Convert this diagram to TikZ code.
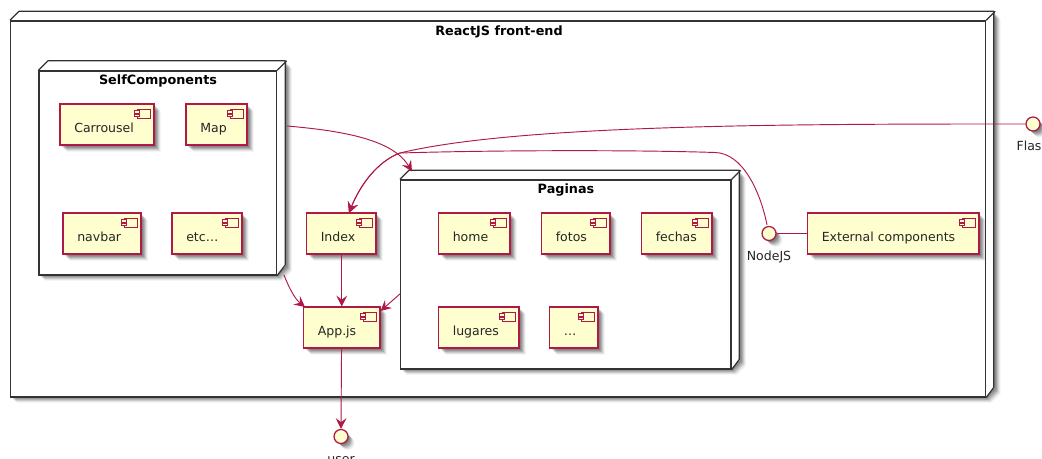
\documentclass[tikz,border=0pt]{standalone}
\usepackage{fontspec}
\setmainfont{DejaVu Sans}
\usetikzlibrary{arrows.meta,fit,calc}
\definecolor{umlred}{HTML}{B01845}
\definecolor{umlfill}{HTML}{FEFECE}
\tikzset{
  px/.style={x=.75pt,y=-.75pt},
  edge/.style={draw=umlred,line width=.7pt,-{Stealth[length=8pt,width=8pt,inset=3pt]}},
  plainedge/.style={draw=umlred,line width=.7pt},
  compbox/.style={draw=umlred,fill=umlfill,line width=.95pt,inner sep=0pt},
  compicon/.style={draw=umlred,fill=umlfill,line width=.7pt},
  comptext/.style={anchor=base west,inner sep=0pt,font=\fontsize{9.4pt}{11pt}\selectfont,text=black!85},
  iface/.style={circle,draw=umlred,fill=umlfill,line width=.95pt,minimum size=10.5pt,inner sep=0pt},
  ifacetext/.style={anchor=base,inner sep=0pt,font=\fontsize{9.4pt}{11pt}\selectfont,text=black!85},
  nodeface/.style={draw=black!80,fill=white,line width=.95pt,inner sep=0pt},
  nodeline/.style={draw=black!80,line width=.95pt,line join=round},
  nodetitle/.style={anchor=base,inner sep=0pt,font=\bfseries\fontsize{9.6pt}{11pt}\selectfont},
}
% soft shadow of a closed outline, drawn in picture units
\newcommand{\softshadow}[1]{%
  \fill[black,opacity=.10] #1;
  \begin{scope}[shift={(1,1)}]\fill[black,opacity=.13] #1;\end{scope}
  \begin{scope}[shift={(2,2)}]\fill[black,opacity=.13] #1;\end{scope}
  \begin{scope}[shift={(3,3)}]\fill[black,opacity=.13] #1;\end{scope}
  \begin{scope}[shift={(4,4)}]\fill[black,opacity=.10] #1;\end{scope}
  \begin{scope}[shift={(5,5)}]\fill[black,opacity=.07] #1;\end{scope}
  \begin{scope}[shift={(6,6)}]\fill[black,opacity=.04] #1;\end{scope}
}
% #1 name, #2..#5 x1 y1 x2 y2, #6 depth, #7 title x, #8 title baseline, #9 title
\newcommand{\threed}[9]{%
  \softshadow{(#2+#6,#3-#6+1) -- (#4+#6,#3-#6+1) -- (#4+#6,#5-#6) -- (#4,#5) -- (#2,#5) -- (#2,#3) -- cycle}
  \fill[white] (#2,#3) -- (#2+#6,#3-#6) -- (#4+#6,#3-#6) -- (#4+#6,#5-#6) -- (#4,#5) -- (#2,#5) -- cycle;
  \node[nodeface,fit={(#2,#3)(#4,#5)}] (#1) {};
  \draw[nodeline] (#1.north west) -- ++(#6,-#6) -- ++(#4-#2,0) -- ++(0,#5-#3) -- (#1.south east);
  \draw[nodeline] (#1.north east) -- ++(#6,-#6);
  \node[nodetitle] (#1-title) at (#7,#8) {#9};
}
% #1 name, #2..#5 x1 y1 x2 y2, #6 label
\newcommand{\comp}[6]{%
  \softshadow{(#2+1,#3+1) rectangle (#4+1,#5+1)}
  \node[compbox,fit={(#2,#3)(#4,#5)}] (#1) {};
  \node[comptext] (#1-text) at (#2+14,#3+29) {#6};
  \draw[compicon] (#4-17,#3+5) rectangle (#4-4,#3+14);
  \draw[compicon,fill=umlfill] (#4-19.5,#3+6.6) rectangle (#4-15,#3+9);
  \draw[compicon,fill=umlfill] (#4-19.5,#3+10) rectangle (#4-15,#3+12.4);
}
% #1 name, #2 x, #3 y, #4 label
\newcommand{\ifacenode}[4]{%
  \softshadow{(#2+1,#3+1) circle[radius=6.6]}
  \node[iface] (#1) at (#2,#3) {};
  \node[ifacetext] (#1-text) at (#2,#3+27) {#4};
}
\begin{document}
\begin{tikzpicture}[px]
\useasboundingbox (0,0) rectangle (1042,459);
\clip (0,0) rectangle (1042,459);
\fill[white] (0,0) rectangle (1042,459);

\threed{react}{10.5}{21}{985.5}{397}{9}{499}{35.5}{ReactJS front-end}
\threed{selfc}{39}{71}{276.5}{275}{9.5}{158}{85}{SelfComponents}
\threed{pag}{400.5}{180}{731}{369}{9}{566}{194}{Paginas}

\comp{carrousel}{60}{104}{154}{145}{Carrousel}
\comp{map}{186}{104}{247}{145}{Map}
\comp{navbar}{63}{213}{141}{254}{navbar}
\comp{etc}{172}{213}{242}{254}{etc…}
\comp{index}{306.5}{213}{376}{254}{Index}
\comp{home}{438.5}{213}{510}{254}{home}
\comp{fotos}{541.5}{213}{610}{254}{fotos}
\comp{fechas}{641.5}{213}{712}{254}{fechas}
\comp{lugares}{438.5}{307}{519}{348}{lugares}
\comp{dots}{549.5}{307}{598}{348}{…}
\comp{app}{303.5}{307}{380}{348}{App.js}
\comp{ext}{807.5}{213}{979}{254}{External components}

\ifacenode{flash}{1033}{124}{Flash}
\ifacenode{nodejs}{769}{233.5}{NodeJS}
\ifacenode{user}{341}{436.5}{user}

\coordinate (selfout) at (287,126);
\coordinate (pagin) at (412,171.5);
\coordinate (merge) at (400,153);
\coordinate (indexin) at (349,213);
\coordinate (selflow) at (284,275);
\coordinate (appleft) at (305,307);
\coordinate (pagout) at (400.5,293.5);
\coordinate (appright) at (380.5,311);

\draw[edge] (selfout) .. controls (345,131) and (393,140) .. (pagin);
\draw[edge] (flash.west) .. controls (800,124) and (520,124) .. (merge) .. controls (378,161) and (360,185) .. (indexin);
\draw[edge] (nodejs.north) ++(-2,-1) .. controls (760,190) and (742,153) .. (715,152.5) .. controls (640,150) and (500,150) .. (merge) .. controls (378,161) and (360,185) .. (indexin);
\draw[edge] (index.south -| app.north) -- (app.north);
\draw[edge] (selflow) .. controls (289,288) and (295,299) .. (appleft);
\draw[edge] (pagout) -- (appright);
\draw[edge] (app.south) ++(-.2,0) -- (user.north);
\draw[plainedge] (nodejs.east) -- (ext.west);
\end{tikzpicture}
\end{document}
